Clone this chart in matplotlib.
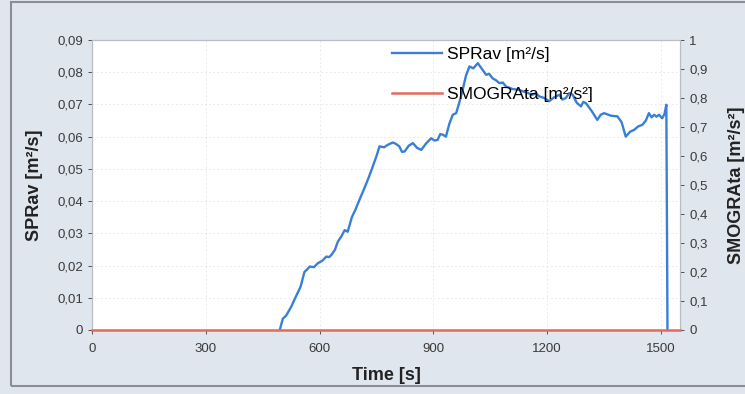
import matplotlib
matplotlib.use("Agg")
import matplotlib.pyplot as plt
from matplotlib.patches import Rectangle

plt.rcParams['font.family'] = ['Liberation Sans', 'DejaVu Sans']

time_s = [495, 503, 512, 525, 538, 550, 560, 567, 574, 585, 595, 607, 618, 625, 631, 640,
          648, 657, 666, 674, 685, 695, 705, 718, 730, 740, 750, 758, 770, 780, 793,
          802, 810, 817, 824, 835, 846, 857, 868, 880, 894, 903, 911, 918, 925, 933,
          942, 951, 960, 968, 977, 986, 995, 1005, 1017, 1028, 1039, 1047, 1056,
          1065, 1074, 1083, 1091, 1108, 1126, 1143, 1161, 1170, 1179, 1192, 1205, 1218,
          1232, 1240, 1249, 1258, 1267, 1278, 1289, 1295, 1302, 1317, 1332, 1341, 1350,
          1368, 1385, 1396, 1407, 1418, 1429, 1440, 1451, 1460, 1468, 1475, 1482, 1488,
          1495, 1503, 1509, 1514, 1517]
sprav = [0.0, 0.0035, 0.0045, 0.0072, 0.0105, 0.0135, 0.018, 0.0188, 0.0197, 0.0195, 0.0207,
         0.0215, 0.0228, 0.0226, 0.0233, 0.0248, 0.0274, 0.029, 0.031, 0.0305, 0.035,
         0.0375, 0.0404, 0.044, 0.0475, 0.0507, 0.054, 0.057, 0.0567, 0.0575, 0.0582,
         0.0577, 0.057, 0.0553, 0.0554, 0.0572, 0.058, 0.0565, 0.0559, 0.0578, 0.0595,
         0.0588, 0.059, 0.0608, 0.0606, 0.060, 0.064, 0.0668, 0.0673, 0.0705, 0.0745,
         0.079, 0.0818, 0.0812, 0.0828, 0.081, 0.0792, 0.0795, 0.0781, 0.0775, 0.0766,
         0.0768, 0.0756, 0.0748, 0.0745, 0.0738, 0.073, 0.0735, 0.0725, 0.072, 0.071,
         0.0722, 0.073, 0.0715, 0.072, 0.0735, 0.073, 0.0705, 0.0694, 0.0708, 0.0704,
         0.068, 0.0652, 0.0668, 0.0673, 0.0665, 0.0663, 0.0645, 0.060, 0.0615, 0.0621,
         0.0632, 0.0637, 0.065, 0.0673, 0.066, 0.0668, 0.0662, 0.0668, 0.0657, 0.067,
         0.0699, 0.0]

smog_time = [0, 1550]
smograta = [0, 0]

left_ticks = [0, 0.01, 0.02, 0.03, 0.04, 0.05, 0.06, 0.07, 0.08, 0.09]
left_labels = ["0", "0,01", "0,02", "0,03", "0,04", "0,05", "0,06", "0,07", "0,08", "0,09"]
right_ticks = [0, 0.1, 0.2, 0.3, 0.4, 0.5, 0.6, 0.7, 0.8, 0.9, 1.0]
right_labels = ["0", "0,1", "0,2", "0,3", "0,4", "0,5", "0,6", "0,7", "0,8", "0,9", "1"]
x_ticks = [0, 300, 600, 900, 1200, 1500]

bg = "#dfe6ee"
fig = plt.figure(figsize=(7.45, 3.94), dpi=100, facecolor=bg)
fig.patches.append(Rectangle((11/745, 8/394), 740/745, 384/394, transform=fig.transFigure,
                             fill=False, edgecolor="#8a8f96", linewidth=1.5))

ax = fig.add_axes([92/745, 64/394, 588/745, 290/394])
ax.set_facecolor("white")
ax2 = ax.twinx()

l1, = ax.plot(time_s, sprav, color="#3a7fd5", linewidth=1.7, label="SPRav [m²/s]")
l2, = ax2.plot(smog_time, smograta, color="#e46a5c", linewidth=1.8, label="SMOGRAta [m²/s²]",
               clip_on=False, zorder=3)

ax.set_xlim(0, 1550)
ax.set_ylim(0, 0.09)
ax2.set_ylim(0, 1.0)
ax.set_xticks(x_ticks)
ax.set_xticklabels([str(v) for v in x_ticks])
ax.set_yticks(left_ticks)
ax.set_yticklabels(left_labels)
ax2.set_yticks(right_ticks)
ax2.set_yticklabels(right_labels)

for a in (ax, ax2):
    a.tick_params(labelsize=9.5, colors="#3a3a3a", length=3, width=0.6)
    for s in a.spines.values():
        s.set_color("#b9bec4")
        s.set_linewidth(0.8)
ax.tick_params(axis='x', pad=6)

ax.grid(True, which='major', color="#e2e5e8", linestyle=(0, (2, 3)), linewidth=0.6)

ax.set_xlabel("Time [s]", fontsize=13, fontweight="bold", color="#222222", labelpad=9)
ax.set_ylabel("SPRav [m²/s]", fontsize=13, fontweight="bold", color="#222222", labelpad=10)
ax2.set_ylabel("SMOGRAta [m²/s²]", fontsize=13, fontweight="bold", color="#222222", labelpad=15)

leg = ax2.legend([l1, l2], [l1.get_label(), l2.get_label()], loc="upper left",
                 bbox_to_anchor=(0.51, 0.975), frameon=False, fontsize=12.5, borderpad=0,
                 borderaxespad=0, handlelength=2.9, handletextpad=0.3, labelspacing=1.4)

fig.savefig("out.png", dpi=100, facecolor=bg)
